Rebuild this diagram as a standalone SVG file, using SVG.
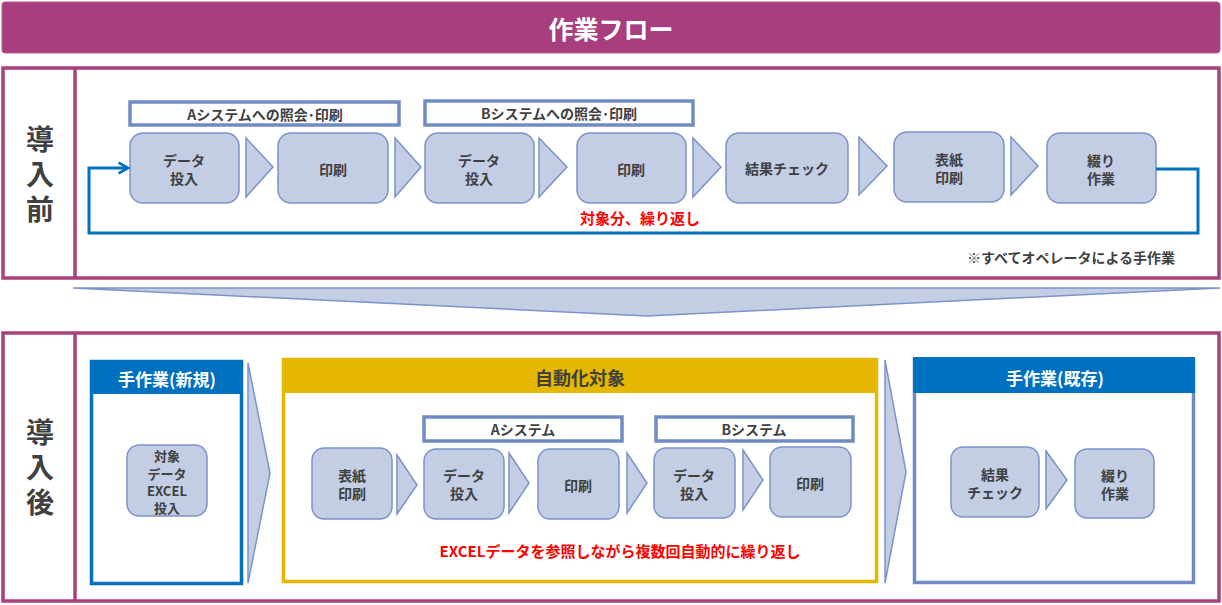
<svg xmlns="http://www.w3.org/2000/svg" width="1222" height="605" viewBox="0 0 1222 605">
<style>
text{font-family:"Noto Sans CJK JP","Noto Sans",sans-serif;font-weight:bold;fill:#404040;text-anchor:middle;dominant-baseline:central}
.node{fill:#C3CEE5;stroke:#7B93C8;stroke-width:1.5}
.tri{fill:#C3CEE5;stroke:#7B93C8;stroke-width:1.5;stroke-linejoin:miter}
.grp{fill:#fff;stroke:#6F8AC4;stroke-width:3.5}
.sec{fill:#fff;stroke:#A8407E;stroke-width:3.5}
.nt{font-size:14px}
.gt{font-size:14px}
.side{font-size:28px;writing-mode:vertical-rl;letter-spacing:7px}
.red{fill:#FF0000;font-size:15px}
</style>
<defs>
<marker id="ab" viewBox="0 0 10 10" refX="8" refY="5" markerWidth="4.5" markerHeight="4.5" orient="auto" markerUnits="strokeWidth"><path d="M1,1 L8,5 L1,9" fill="none" stroke="#0070C0" stroke-width="2"/></marker>
<marker id="am" viewBox="0 0 10 10" refX="8" refY="5" markerWidth="4" markerHeight="4" orient="auto" markerUnits="strokeWidth"><path d="M1,1 L8,5 L1,9" fill="none" stroke="#A8407E" stroke-width="2"/></marker>
</defs>

<g id="title">
<rect x="2" y="2" width="1218" height="51" rx="3" fill="#A93E7E" stroke="#B55A8E" stroke-width="1"/>
<text x="611" y="28" style="font-size:25px;fill:#fff">作業フロー</text>
</g>

<g id="before-section">
<rect class="sec" x="3" y="68" width="1216" height="210"/>
<line x1="75" y1="68" x2="75" y2="278" stroke="#A8407E" stroke-width="3.5"/>
<text class="side" x="40" y="178">導入前</text>
</g>

<g id="after-section">
<rect class="sec" x="3" y="333" width="1216" height="268"/>
<line x1="75" y1="333" x2="75" y2="601" stroke="#A8407E" stroke-width="3.5"/>
<text class="side" x="40" y="471">導入後</text>
</g>

<g id="down-arrow">
<polygon points="73,288 1220,288 647,316" fill="#C3CEE5" stroke="#7B93C8" stroke-width="1.5"/>
</g>

<g id="grpA-before"><rect class="grp" x="130" y="102" width="269" height="23"/><text class="gt" x="265" y="114">Aシステムへの照会･印刷</text></g>
<g id="grpB-before"><rect class="grp" x="425" y="101" width="268" height="24"/><text class="gt" x="559" y="113">Bシステムへの照会･印刷</text></g>

<g id="b-n1"><rect class="node" x="130" y="133" width="109" height="70" rx="13"/><text class="nt" x="184" y="160">データ</text><text class="nt" x="184" y="178">投入</text></g>
<g id="b-t1"><polygon class="tri" points="246,138 273,167 246,197"/></g>
<g id="b-n2"><rect class="node" x="278" y="133" width="110" height="70" rx="13"/><text class="nt" x="333" y="169">印刷</text></g>
<g id="b-t2"><polygon class="tri" points="395,138 421,167 395,197"/></g>
<g id="b-n3"><rect class="node" x="425" y="133" width="109" height="70" rx="13"/><text class="nt" x="479" y="160">データ</text><text class="nt" x="479" y="178">投入</text></g>
<g id="b-t3"><polygon class="tri" points="539,138 567,167 539,197"/></g>
<g id="b-n4"><rect class="node" x="577" y="133" width="109" height="70" rx="13"/><text class="nt" x="631" y="169">印刷</text></g>
<g id="b-t4"><polygon class="tri" points="693,138 721,167 693,197"/></g>
<g id="b-n5"><rect class="node" x="726" y="133" width="122" height="70" rx="13"/><text class="nt" x="787" y="168">結果チェック</text></g>
<g id="b-t5"><polygon class="tri" points="859,137 887,166 859,195"/></g>
<g id="b-n6"><rect class="node" x="894" y="132" width="110" height="70" rx="13"/><text class="nt" x="949" y="159">表紙</text><text class="nt" x="949" y="177">印刷</text></g>
<g id="b-t6"><polygon class="tri" points="1011,137 1038,166 1011,195"/></g>
<g id="b-n7"><rect class="node" x="1047" y="133" width="109" height="70" rx="13"/><text class="nt" x="1101" y="160">綴り</text><text class="nt" x="1101" y="178">作業</text></g>

<g id="connectors">
<polyline points="1156,169 1198,169 1198,233 89,233 89,168 128,168" fill="none" stroke="#0070C0" stroke-width="3" marker-end="url(#ab)"/>
<polyline points="851,482 863,482 863,529 294,529 294,484 310,484" fill="none" stroke="#A8407E" stroke-width="3" marker-end="url(#am)"/>
</g>

<g id="loop-label-before"><text class="red" x="640" y="217">対象分、繰り返し</text></g>
<g id="note"><text x="1175" y="257" style="font-size:14px;text-anchor:end">※すべてオペレータによる手作業</text></g>

<g id="panel-new">
<rect x="91.5" y="361.5" width="150" height="222" fill="#fff" stroke="#0070C0" stroke-width="3.5"/>
<rect x="90" y="360" width="153" height="34" fill="#0070C0"/>
<text x="167" y="378" style="font-size:17px;fill:#fff">手作業(新規)</text>
</g>
<g id="a-n0"><rect class="node" x="127" y="445" width="80" height="71" rx="12"/>
<text x="167" y="455" style="font-size:13px">対象</text><text x="167" y="473" style="font-size:13px">データ</text><text x="167" y="490" style="font-size:13px">EXCEL</text><text x="167" y="507" style="font-size:13px">投入</text></g>
<g id="a-c1"><polygon class="tri" points="248,363 270,473 248,583"/></g>

<g id="panel-auto">
<rect x="283.5" y="359.5" width="593" height="222" fill="#fff" stroke="#E5B700" stroke-width="3.5"/>
<rect x="282" y="358" width="596" height="35" fill="#E5B700"/>
<text x="580" y="377" style="font-size:18px">自動化対象</text>
</g>
<g id="grpA-after"><rect class="grp" x="424" y="417" width="198" height="24"/><text class="gt" x="523" y="429">Aシステム</text></g>
<g id="grpB-after"><rect class="grp" x="656" y="417" width="197" height="24"/><text class="gt" x="754" y="429">Bシステム</text></g>

<g id="a-n1"><rect class="node" x="312" y="448" width="80" height="71" rx="12"/><text class="nt" x="352" y="475">表紙</text><text class="nt" x="352" y="493">印刷</text></g>
<g id="a-t1"><polygon class="tri" points="397,455 417,485 397,514"/></g>
<g id="a-n2"><rect class="node" x="424" y="449" width="80" height="70" rx="12"/><text class="nt" x="464" y="475">データ</text><text class="nt" x="464" y="493">投入</text></g>
<g id="a-t2"><polygon class="tri" points="509,453 529,483 509,513"/></g>
<g id="a-n3"><rect class="node" x="538" y="449" width="81" height="70" rx="12"/><text class="nt" x="578" y="485">印刷</text></g>
<g id="a-t3"><polygon class="tri" points="627,453 647,483 627,513"/></g>
<g id="a-n4"><rect class="node" x="654" y="448" width="81" height="70" rx="12"/><text class="nt" x="694" y="475">データ</text><text class="nt" x="694" y="493">投入</text></g>
<g id="a-t4"><polygon class="tri" points="743,450 763,480 743,510"/></g>
<g id="a-n5"><rect class="node" x="770" y="447" width="81" height="70" rx="12"/><text class="nt" x="810" y="483">印刷</text></g>

<g id="loop-label-after"><text class="red" x="620" y="550">EXCELデータを参照しながら複数回自動的に繰り返し</text></g>

<g id="a-c2"><polygon class="tri" points="885,360 906,472 885,583"/></g>

<g id="panel-existing">
<rect x="914.5" y="359" width="279" height="223.5" fill="#fff" stroke="#6F8AC4" stroke-width="3.5"/>
<rect x="913" y="357" width="282" height="36" fill="#0070C0"/>
<text x="1055" y="377" style="font-size:17px;fill:#fff">手作業(既存)</text>
</g>
<g id="e-n1"><rect class="node" x="951" y="447" width="88" height="70" rx="12"/><text class="nt" x="995" y="474">結果</text><text class="nt" x="995" y="492">チェック</text></g>
<g id="e-t1"><polygon class="tri" points="1046,451 1067,480 1046,509"/></g>
<g id="e-n2"><rect class="node" x="1075" y="449" width="79" height="69" rx="12"/><text class="nt" x="1115" y="475">綴り</text><text class="nt" x="1115" y="493">作業</text></g>
</svg>
